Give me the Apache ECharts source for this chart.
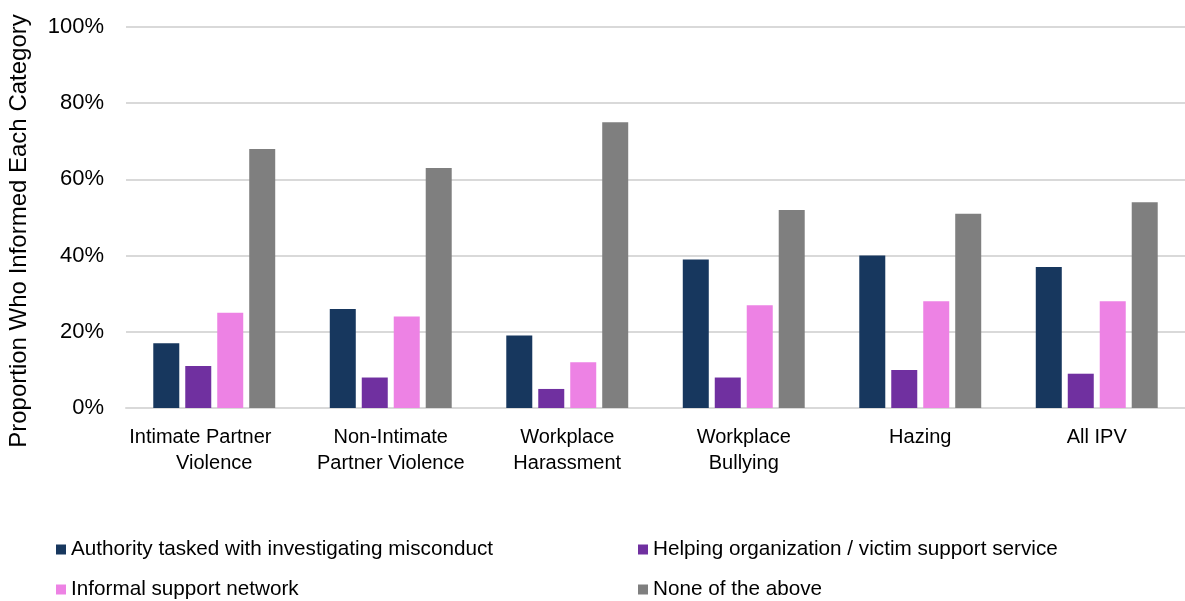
<!DOCTYPE html>
<html lang="en">
<head>
    <meta charset="UTF-8">
    <title>Who Was Informed</title>
    <script src="https://cdn.jsdelivr.net/npm/echarts@6.0.0/dist/echarts.min.js"></script>
    <style>
        body { margin: 0; background: #fff; }
        #main { width: 1185px; height: 601px; }
    </style>
</head>
<body>
<div id="main"></div>
<script type="text/javascript">
    // categories on the x axis
    const categories = ['Intimate Partner     \nViolence', 'Non-Intimate\nPartner Violence', 'Workplace\nHarassment',
        'Workplace\nBullying', 'Hazing', 'All IPV']
    const seriesNames = ['Authority tasked with investigating misconduct', 'Helping organization / victim support service',
        'Informal support network', 'None of the above']
    // values in percent
    const authority = [17, 26, 19, 39, 40, 37]
    const helping = [11, 8, 5, 8, 10, 9]
    const informal = [25, 24, 12, 27, 28, 28]
    const none = [68, 63, 75, 52, 51, 54]
    const yTicks = [0, 20, 40, 60, 80, 100]

    const colors = ['#17375e', '#7030a0', '#ed82e4', '#7f7f7f']
    const font = 'Liberation Sans, Arial, sans-serif'

    var chartDom = document.getElementById('main')
    var myChart = echarts.init(chartDom)

    const allData = [authority, helping, informal, none]
    const series = seriesNames.map((name, i) => {
        return {
            name: name,
            type: 'bar',
            data: allData[i],
            barWidth: 26,
            barGap: '23%',
            itemStyle: { color: colors[i] }
        }
    })

    // one legend per entry, laid out as a 2x2 block like the original
    const legendPos = [[56, 539], [638, 539], [56, 579], [638, 579]]
    const legends = seriesNames.map((name, i) => {
        return {
            data: [name],
            left: legendPos[i][0],
            top: legendPos[i][1],
            padding: 0,
            itemWidth: 10,
            itemHeight: 10,
            icon: 'rect',
            textStyle: { fontSize: 20.7, color: '#000', fontFamily: font }
        }
    })

    var option = {
        animation: false,
        textStyle: { fontFamily: font },
        grid: {
            left: 126,
            right: -6,
            top: 27,
            bottom: 193,
            containLabel: false
        },
        legend: legends,
        xAxis: {
            type: 'category',
            data: categories,
            axisTick: { show: false },
            axisLine: { lineStyle: { color: '#d9d9d9', width: 2 } },
            axisLabel: {
                interval: 0,
                fontSize: 20,
                color: '#000',
                lineHeight: 26,
                margin: 16,
                fontFamily: font
            }
        },
        yAxis: {
            type: 'value',
            min: 0,
            max: 100,
            interval: 20,
            axisLabel: {
                fontSize: 22,
                color: '#000',
                margin: 22,
                fontFamily: font,
                formatter: v => yTicks.includes(v) ? v + '%' : ''
            },
            splitLine: { lineStyle: { color: '#d9d9d9', width: 2 } },
            axisLine: { show: false },
            axisTick: { show: false }
        },
        graphic: [
            {
                type: 'text',
                x: 19,
                y: 231,
                rotation: Math.PI / 2,
                style: {
                    text: 'Proportion Who Informed Each Category',
                    font: '24px ' + font,
                    fill: '#000',
                    textAlign: 'center',
                    textVerticalAlign: 'middle'
                }
            }
        ],
        series: series
    }

    option && myChart.setOption(option)
</script>
</body>
</html>
